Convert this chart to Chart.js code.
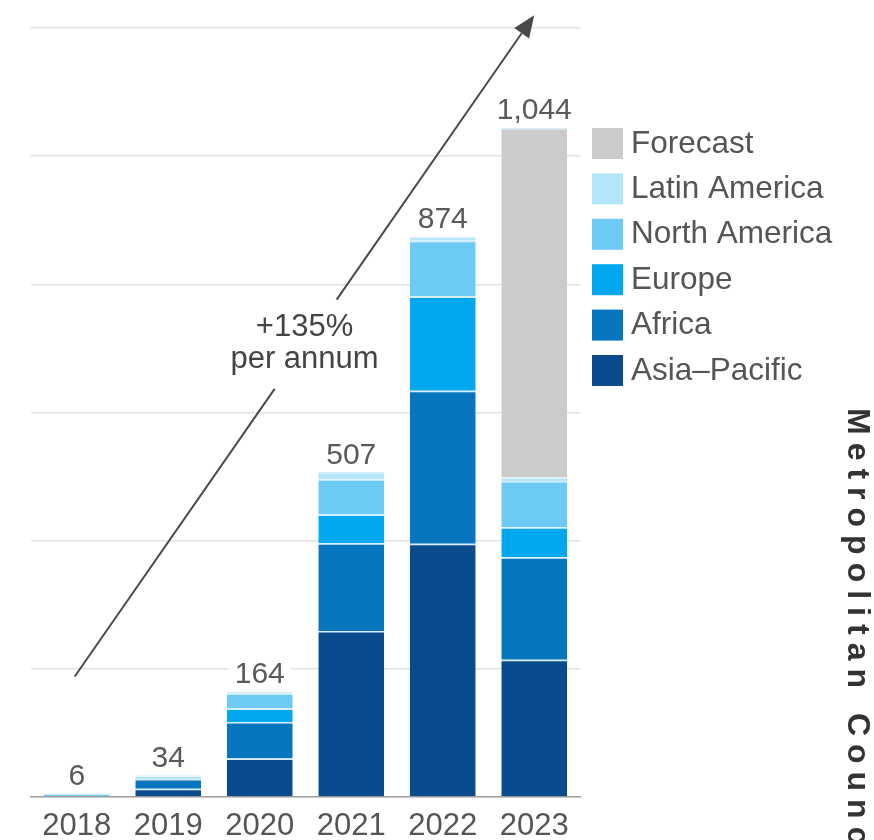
<!DOCTYPE html>
<html>
<head>
<meta charset="utf-8">
<script src="https://cdn.jsdelivr.net/npm/chart.js@4.4.0/dist/chart.umd.min.js"></script>
<style>
  html, body { margin: 0; padding: 0; background: #fff; }
  #wrap { width: 874px; height: 840px; }
</style>
</head>
<body>
<div id="wrap"><canvas id="chart" width="874" height="840"></canvas></div>
<script>
// ---------- DATA ----------
const years = ["2018", "2019", "2020", "2021", "2022", "2023"];

const asiaPacific  = [0, 13, 60, 259, 395, 214];
const africa       = [0, 15, 57, 137, 239, 160];
const europe       = [0, 1, 21, 45, 147, 47];
const northAmerica = [5, 3, 24, 55, 87, 72];
const latinAmerica = [1, 2, 2, 11, 6, 6];
const forecast     = [0, 0, 0, 0, 0, 545];

const yMax = 1200;
const yStep = 200;

// growth arrow runs from the 2018 bar to the 2023 bar
const arrowFrom = 188;
const arrowTo = 1220;
const growthText = ["+135%", "per annum"];

const sideText = "Metropolitan Council";

const FONT = '"Liberation Sans", Arial, sans-serif';

// ---------- PLUGINS ----------
const totalsPlugin = {
    id: "totals",
    afterDatasetsDraw(chart) {
        const { ctx, scales: { x, y } } = chart;
        ctx.save();
        ctx.font = "30px " + FONT;
        ctx.textAlign = "center";
        ctx.textBaseline = "alphabetic";
        years.forEach((yr, i) => {
            const total = chart.data.datasets.reduce((s, d) => s + d.data[i], 0);
            const px = x.getPixelForValue(i);
            const py = y.getPixelForValue(total) - 8.5;
            const txt = total.toLocaleString("en-US");
            const w = ctx.measureText(txt).width;
            ctx.fillStyle = "#fff";
            ctx.fillRect(px - w / 2 - 6, py - 26, w + 12, 28);
            ctx.fillStyle = "#5a5a5a";
            ctx.fillText(txt, px, py);
        });
        ctx.restore();
    }
};

const arrowPlugin = {
    id: "growthArrow",
    afterDatasetsDraw(chart) {
        const { ctx, scales: { x, y } } = chart;
        const x0 = x.getPixelForValue(0) - 2;
        const y0 = y.getPixelForValue(arrowFrom);
        const x1 = x.getPixelForValue(years.length - 1);
        const y1 = y.getPixelForValue(arrowTo);

        const dx = x1 - x0, dy = y1 - y0;
        const len = Math.hypot(dx, dy);
        const ux = dx / len, uy = dy / len;
        const head = 22, half = 9;
        const bx = x1 - ux * head, by = y1 - uy * head;

        const at = t => [x0 + dx * t, y0 + dy * t];
        const gapA = at(0.435), gapB = at(0.57);

        ctx.save();
        ctx.strokeStyle = "#4a4a4a";
        ctx.fillStyle = "#4a4a4a";
        ctx.lineWidth = 2;
        ctx.beginPath();
        ctx.moveTo(x0, y0);
        ctx.lineTo(gapA[0], gapA[1]);
        ctx.moveTo(gapB[0], gapB[1]);
        ctx.lineTo(bx, by);
        ctx.stroke();

        // arrow head
        ctx.beginPath();
        ctx.moveTo(x1, y1);
        ctx.lineTo(bx - uy * half, by + ux * half);
        ctx.lineTo(bx + uy * half, by - ux * half);
        ctx.closePath();
        ctx.fill();

        // label in the gap
        const mid = at(0.5);
        ctx.font = "31px " + FONT;
        ctx.textAlign = "center";
        ctx.textBaseline = "alphabetic";
        ctx.fillStyle = "#444";
        ctx.fillText(growthText[0], mid[0], mid[1] - 10);
        ctx.fillText(growthText[1], mid[0], mid[1] + 22);
        ctx.restore();
    }
};

const legendPlugin = {
    id: "sideLegend",
    afterDraw(chart) {
        const { ctx, chartArea } = chart;
        const items = chart.data.datasets.slice().reverse();
        const left = chartArea.right + 12;
        const top = chartArea.top + 100;
        ctx.save();
        ctx.font = "31.5px " + FONT;
        ctx.textBaseline = "middle";
        ctx.textAlign = "left";
        items.forEach((ds, i) => {
            const yy = top + i * 45.4;
            ctx.fillStyle = ds.backgroundColor;
            ctx.fillRect(left, yy, 31, 31);
            ctx.fillStyle = "#555";
            ctx.fillText(ds.label, left + 39, yy + 16);
        });
        ctx.restore();
    }
};

const sideTextPlugin = {
    id: "sideText",
    afterDraw(chart) {
        const { ctx, chartArea } = chart;
        ctx.save();
        ctx.translate(chart.width - 26, chartArea.top + 380);
        ctx.rotate(Math.PI / 2);
        ctx.letterSpacing = "8px";
        ctx.font = "bold 32px " + FONT;
        ctx.fillStyle = "#333";
        ctx.textBaseline = "alphabetic";
        ctx.textAlign = "left";
        ctx.fillText(sideText, 0, 0);
        ctx.restore();
    }
};

// ---------- CHART ----------
const segBorder = { top: 1.5, right: 0, bottom: 0, left: 0 };
const makeSet = (label, data, color) => ({
    label: label,
    data: data,
    backgroundColor: color,
    borderColor: "rgba(200,232,252,0.8)",
    borderWidth: segBorder,
    borderSkipped: false,
    barPercentage: 0.72,
    categoryPercentage: 1.0
});

const ctx = document.getElementById("chart");
const chart = new Chart(ctx, {
    type: "bar",
    data: {
        labels: years,
        datasets: [
            makeSet("Asia–Pacific", asiaPacific, "#0a4b8e"),
            makeSet("Africa", africa, "#0776be"),
            makeSet("Europe", europe, "#00a8ef"),
            makeSet("North America", northAmerica, "#6dcaf5"),
            makeSet("Latin America", latinAmerica, "#b4e6fb"),
            makeSet("Forecast", forecast, "#cbcbcb")
        ]
    },
    options: {
        responsive: false,
        animation: false,
        layout: { padding: { left: 31, right: 294, top: 28, bottom: -16 } },
        plugins: {
            legend: { display: false },
            tooltip: { enabled: false }
        },
        scales: {
            x: {
                stacked: true,
                grid: { display: false, drawTicks: false },
                border: { display: true, color: "#a0a0a0", width: 1.5 },
                ticks: {
                    color: "#555",
                    padding: 14,
                    font: { family: FONT, size: 31, lineHeight: 1 }
                }
            },
            y: {
                stacked: true,
                min: 0,
                max: yMax,
                ticks: { display: false, stepSize: yStep },
                grid: { color: "#e2e2e2", lineWidth: 1.5, drawTicks: false },
                border: { display: false }
            }
        }
    },
    plugins: [totalsPlugin, arrowPlugin, legendPlugin, sideTextPlugin]
});
</script>
</body>
</html>
